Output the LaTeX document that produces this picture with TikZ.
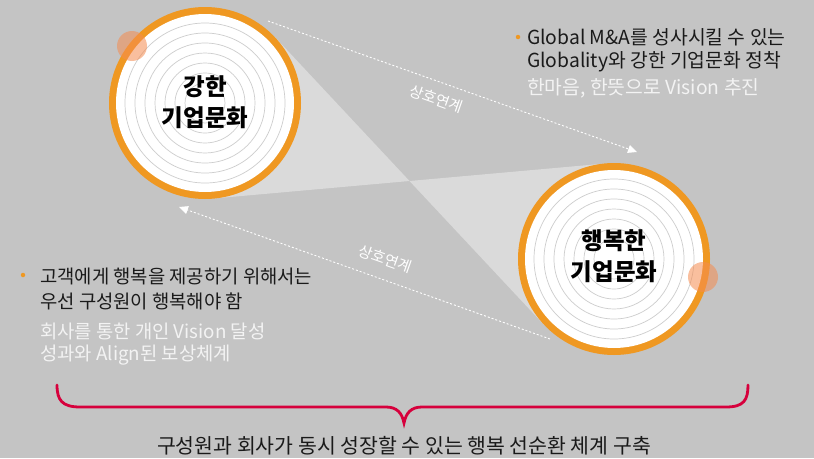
\documentclass[tikz,border=0pt]{standalone}
\usepackage{fontspec}
\setmainfont{Noto Sans CJK KR}
\usetikzlibrary{arrows.meta}
\definecolor{bg}{RGB}{196,196,196}
\definecolor{band}{RGB}{218,218,218}
\definecolor{ringorange}{RGB}{239,152,34}
\definecolor{spot}{RGB}{245,140,80}
\definecolor{ringline}{RGB}{205,205,205}
\definecolor{txt}{RGB}{26,26,26}
\definecolor{soft}{RGB}{243,243,243}
\definecolor{bracered}{RGB}{214,0,60}
\begin{document}
\begin{tikzpicture}[x=1pt,y=-1pt,
  dasharrow/.style={white, line width=0.9pt, dash pattern=on 2pt off 2pt, -{Triangle[length=9pt,width=8pt]}},
  linklabel/.style={text=white, font=\fontsize{15}{15}\selectfont, inner sep=0pt},
  circtext/.style={align=center, text=black, font=\fontsize{23.5}{31}\selectfont\bfseries},
  body/.style={anchor=west, text=txt, font=\fontsize{18.8}{20}\selectfont, inner sep=0pt},
  bodysoft/.style={body, text=soft},
  bodyr/.style={body, font=\fontsize{19.3}{20}\selectfont},
  bodyrsoft/.style={bodyr, text=soft},
  bullet/.style={circle, fill=ringorange, inner sep=0pt, minimum size=4.5pt},
  spotstyle/.style={fill=spot, fill opacity=0.55}
]
\useasboundingbox (0,0) rectangle (814,458);
\fill[bg] (0,0) rectangle (814,458);

% light bands between internal tangents
\coordinate (c1) at (205,103);
\coordinate (c2) at (614,259);
\coordinate (mid) at (409.5,181);
\fill[band] (c1) -- (275.2,37.4) -- (mid) -- (213.6,198.5) -- cycle;
\fill[band] (c2) -- (543.8,324.6) -- (mid) -- (605.4,163.5) -- cycle;

% circles
\foreach \cx/\cy in {205/103, 614/259}{
  \fill[ringorange] (\cx,\cy) circle (96);
  \fill[white] (\cx,\cy) circle (89);
  \foreach \r in {80,70,60,50,40,30,20}{
    \draw[ringline, line width=0.7pt] (\cx,\cy) circle (\r);
  }
}
\fill[spotstyle] (132,46) circle (15);
\fill[spotstyle] (703,277) circle (15);

\node[circtext] (strong) at (205,102) {강한\\기업문화};
\node[circtext] (happy) at (614,256) {행복한\\기업문화};

% dashed links
\coordinate (a1s) at (268,21);
\coordinate (a1e) at (637,152);
\coordinate (a2s) at (550,339);
\coordinate (a2e) at (179,207);
\draw[dasharrow] (a1s) -- (a1e);
\draw[dasharrow] (a2s) -- (a2e);
\node[linklabel, rotate=-19.5] (lab1) at (436,99) {상호연계};
\node[linklabel, rotate=-19.5] (lab2) at (385,259) {상호연계};

% top-right text
\node[bullet] (b1) at (518,37) {};
\node[bodyr] (t1) at (527,37) {Global M\&A를 성사시킬 수 있는};
\node[bodyr] (t2) at (527,62) {Globality와 강한 기업문화 정착};
\node[bodyrsoft] (t3) at (527,88) {한마음, 한뜻으로 Vision 추진};

% bottom-left text
\node[bullet] (b2) at (23,275) {};
\node[body] (s1) at (40,276) {고객에게 행복을 제공하기 위해서는};
\node[body] (s2) at (40,301) {우선 구성원이 행복해야 함};
\node[bodysoft] (s3) at (40,331) {회사를 통한 개인 Vision 달성};
\node[bodysoft] (s4) at (40,355) {성과와 Align된 보상체계};

% brace
\draw[bracered, line width=2.8pt, line cap=round]
  (57,385) .. controls (57,400) and (62,407) .. (80,407) -- (386,407)
  .. controls (397,407) and (402,413) .. (404,423)
  .. controls (406,413) and (411,407) .. (422,407) -- (726,407)
  .. controls (744,407) and (748,400) .. (748,385);

\node[text=txt, font=\fontsize{20.5}{22}\selectfont, inner sep=0pt] (summary) at (404,446) {구성원과 회사가 동시 성장할 수 있는 행복 선순환 체계 구축};
\end{tikzpicture}
\end{document}
